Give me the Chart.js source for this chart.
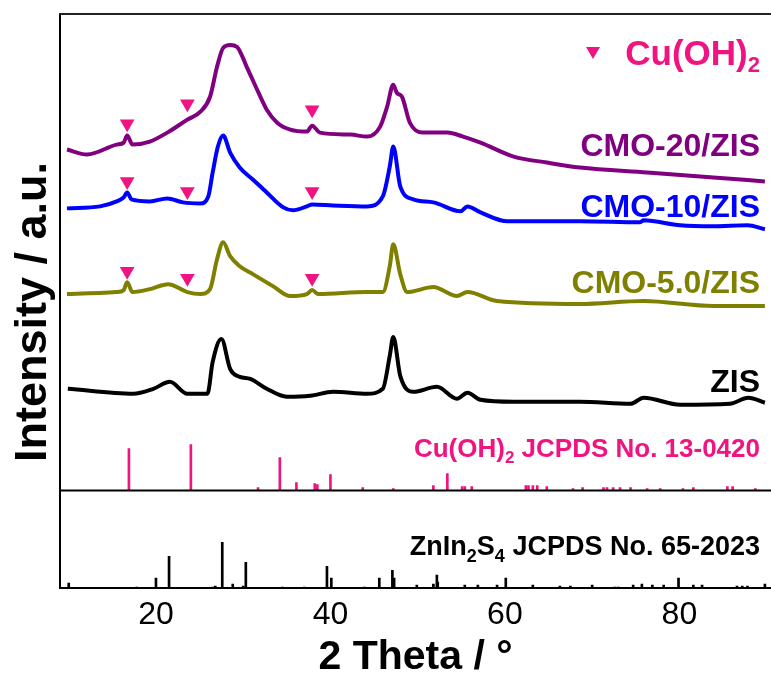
<!DOCTYPE html>
<html>
<head>
<meta charset="utf-8">
<script src="https://cdn.jsdelivr.net/npm/chart.js@4"></script>
<style>html,body{margin:0;padding:0;background:#fff}</style>
</head>
<body>
<canvas id="xrd" width="771" height="675"></canvas>
<script>
// XRD patterns, intensities already offset (a.u.)
var cmo20Theta = [9.8,12.1,15.5,16.3,16.7,17.3,19.3,21.3,23.6,25.1,26.2,27.0,27.7,28.5,29.3,30.4,31.6,32.7,33.9,35.4,37.3,37.9,38.8,42.3,44.2,45.7,46.5,47.2,47.6,48.2,49.1,50.6,53.4,55.2,57.2,61.0,64.8,68.6,76.3,83.9,89.8];
var cmo20Int   = [440,435,445,447,454,445,448,457,470,478,493,523,542,545,543,523,500,480,467,460,458,464,457,455,453,463,483,505,497,493,467,457,457,453,447,433,427,422,417,412,408];

var cmo10Theta = [9.8,13.6,15.5,16.3,16.7,17.2,19.3,21.3,23.1,25.1,26.0,26.5,27.1,27.7,28.5,29.6,31.1,32.7,34.6,35.7,37.3,37.9,40.3,44.2,46.0,46.8,47.2,48.0,49.5,51.8,54.9,55.7,57.2,60.3,68.6,75.5,75.9,80.1,83.9,87.8,89.8];
var cmo10Int   = [381,383,388,392,397,390,388,391,387,386,393,417,443,454,437,422,410,397,382,379,383,385,384,383,393,423,443,403,390,387,378,383,377,368,368,367,369,364,363,364,360];

var cmo5Theta = [9.8,15.5,16.3,16.7,17.3,19.3,21.4,23.6,25.1,26.2,27.0,27.7,28.5,29.6,31.1,33.4,35.4,37.3,37.9,38.6,44.2,46.0,46.8,47.2,48.0,48.8,51.8,54.5,55.7,59.1,68.6,75.9,83.9,89.8];
var cmo5Int   = [295,297,299,307,297,300,305,297,295,300,330,347,333,323,315,303,293,295,299,295,297,297,323,345,315,297,302,293,297,288,285,288,283,283];

var zisTheta = [9.9,17.4,19.7,21.6,23.6,25.9,26.5,27.5,28.5,29.6,30.8,32.7,35.0,37.7,40.3,44.2,46.0,46.8,47.2,48.0,49.5,52.2,54.5,55.7,57.2,61.0,68.6,74.4,75.9,80.1,85.8,87.9,89.8];
var zisInt   = [200,195,200,207,195,195,227,250,220,212,210,200,192,193,197,195,200,233,252,213,197,202,190,196,189,187,187,185,191,184,185,191,186];

// Cu(OH)2 marker positions above each pattern
var markTheta = [16.7, 23.6, 37.9];
var mark20 = [466, 486, 480];
var mark10 = [408, 398, 398];
var mark5  = [318, 311, 311];

// reference cards
var cuohBase = 98;
var cuohPos = [16.9,24.0,31.7,34.2,36.1,38.2,38.5,40.0,43.7,47.2,51.8,53.4,55.1,55.4,56.2,62.4,62.7,63.2,63.7,64.8,67.8,68.9,71.3,71.7,72.4,73.2,74.4,76.3,77.8,80.4,81.6,85.5,86.1,88.7];
var cuohH   = [42,46,3,33,8,7,6,16,3,2,5,17,4,4,4,5,5,5,5,4,2,3,3,3,3,3,3,2,2,2,3,4,4,2];
var zisBase = 0;
var zisPos = [10.0,17.8,20.0,21.5,26.5,26.8,27.6,28.8,30.0,30.3,34.5,37.0,39.6,40.1,43.9,45.6,47.1,47.3,49.9,51.8,52.2,52.3,55.4,56.9,59.1,60.1,63.2,66.3,67.5,70.0,72.6,73.0,74.7,75.7,76.9,78.2,79.9,81.6,82.6,86.6,87.2,87.8,89.8];
var zisH   = [5,1,10,32,1,2,46,4,2,26,1,1,22,10,1,10,18,10,3,4,13,6,3,3,3,10,3,2,2,3,1,1,3,4,3,3,10,3,3,2,2,2,4];

var xTicks = [20, 40, 60, 80];

var PINK = '#F01482';
var FONT = "'Liberation Sans', Arial, sans-serif";

function pts(xs, ys) {
    return xs.map(function(x, i) { return {x: x, y: ys[i]}; });
}
function sticks(xs, hs, base) {
    return xs.map(function(x, i) { return {x: x, y: [base, base + hs[i]]}; });
}
function curve(label, xs, ys, color) {
    return {
        type: 'line', label: label, data: pts(xs, ys),
        borderColor: color, borderWidth: 4, pointRadius: 0,
        cubicInterpolationMode: 'monotone', fill: false
    };
}
function markers(ys) {
    return {
        type: 'scatter', data: pts(markTheta, ys),
        pointStyle: 'triangle', rotation: 180, pointRadius: 8.5,
        backgroundColor: PINK, borderColor: PINK, borderWidth: 0, showLine: false
    };
}

// draw text pieces (normal + subscript) right-aligned at rightX
function drawRuns(ctx, runs, rightX, baseY, color) {
    var total = 0;
    runs.forEach(function(r) {
        ctx.font = 'bold ' + r.size + 'px ' + FONT;
        r.w = ctx.measureText(r.t).width;
        total += r.w;
    });
    var x = rightX - total;
    ctx.fillStyle = color;
    ctx.textAlign = 'left';
    ctx.textBaseline = 'alphabetic';
    runs.forEach(function(r) {
        ctx.font = 'bold ' + r.size + 'px ' + FONT;
        ctx.fillText(r.t, x, baseY + (r.dy || 0));
        x += r.w;
    });
}

var labelsPlugin = {
    id: 'labels',
    afterDraw: function(chart) {
        var ctx = chart.ctx, a = chart.chartArea;
        ctx.save();
        // top frame line
        ctx.strokeStyle = '#222';
        ctx.lineWidth = 2;
        ctx.beginPath();
        ctx.moveTo(a.left - 1, a.top);
        ctx.lineTo(a.right, a.top);
        ctx.stroke();

        // y axis title
        ctx.save();
        ctx.translate(46, 312);
        ctx.rotate(-Math.PI / 2);
        ctx.font = 'bold 45px ' + FONT;
        ctx.fillStyle = '#000';
        ctx.textAlign = 'center';
        ctx.textBaseline = 'alphabetic';
        ctx.fillText('Intensity / a.u.', 0, 0);
        ctx.restore();

        var rx = 760;
        drawRuns(ctx, [{t: 'CMO-20/ZIS', size: 32}], rx, 156, '#800080');
        drawRuns(ctx, [{t: 'CMO-10/ZIS', size: 32}], rx, 217, '#0000FF');
        drawRuns(ctx, [{t: 'CMO-5.0/ZIS', size: 32}], rx, 293, '#808000');
        drawRuns(ctx, [{t: 'ZIS', size: 32}], rx, 392, '#000');
        drawRuns(ctx, [{t: 'Cu(OH)', size: 35}, {t: '2', size: 22, dy: 7}], rx, 65, PINK);
        drawRuns(ctx, [{t: 'Cu(OH)', size: 26}, {t: '2', size: 17, dy: 6}, {t: ' JCPDS No. 13-0420', size: 26}], rx, 457, PINK);
        drawRuns(ctx, [{t: 'ZnIn', size: 27}, {t: '2', size: 18, dy: 7}, {t: 'S', size: 27}, {t: '4', size: 18, dy: 7}, {t: ' JCPDS No. 65-2023', size: 27}], rx, 555, '#000');

        // legend triangle
        ctx.fillStyle = PINK;
        ctx.beginPath();
        ctx.moveTo(586, 47);
        ctx.lineTo(600, 47);
        ctx.lineTo(593, 59);
        ctx.closePath();
        ctx.fill();
        ctx.restore();
    }
};

new Chart(document.getElementById('xrd'), {
    type: 'line',
    data: {
        datasets: [
            markers(mark20), markers(mark10), markers(mark5),
            curve('CMO-20/ZIS', cmo20Theta, cmo20Int, '#800080'),
            curve('CMO-10/ZIS', cmo10Theta, cmo10Int, '#0000FF'),
            curve('CMO-5.0/ZIS', cmo5Theta, cmo5Int, '#808000'),
            curve('ZIS', zisTheta, zisInt, '#000000'),
            {
                type: 'line', data: [{x: 9, y: cuohBase}, {x: 90.5, y: cuohBase}],
                borderColor: '#000', borderWidth: 2, pointRadius: 0
            },
            {
                type: 'bar', data: sticks(cuohPos, cuohH, cuohBase),
                backgroundColor: PINK, barThickness: 2, grouped: false
            },
            {
                type: 'bar', data: sticks(zisPos, zisH, zisBase),
                backgroundColor: '#000', barThickness: 2, grouped: false
            }
        ]
    },
    options: {
        responsive: false,
        animation: false,
        devicePixelRatio: 1,
        layout: {autoPadding: false, padding: {left: 60, top: 14, right: 0, bottom: 0}},
        plugins: {legend: {display: false}, tooltip: {enabled: false}},
        scales: {
            x: {
                type: 'linear', min: 9, max: 90.5, offset: false,
                grid: {display: false, drawTicks: false},
                border: {display: true, color: '#000', width: 2},
                afterBuildTicks: function(scale) {
                    scale.ticks = xTicks.map(function(v) { return {value: v}; });
                },
                ticks: {
                    color: '#000', autoSkip: false, maxRotation: 0, padding: 11,
                    font: {family: FONT, size: 32, lineHeight: 1.0}
                },
                title: {
                    display: true, text: '2 Theta / \u00B0', color: '#000',
                    font: {family: FONT, size: 41, weight: 'bold', lineHeight: 0.85},
                    padding: {top: -2, bottom: 0}
                }
            },
            y: {
                type: 'linear', min: 0, max: 576,
                grid: {display: false, drawTicks: false},
                border: {display: true, color: '#000', width: 2},
                ticks: {display: false},
                title: {display: false}
            }
        }
    },
    plugins: [labelsPlugin]
});
</script>
</body>
</html>
